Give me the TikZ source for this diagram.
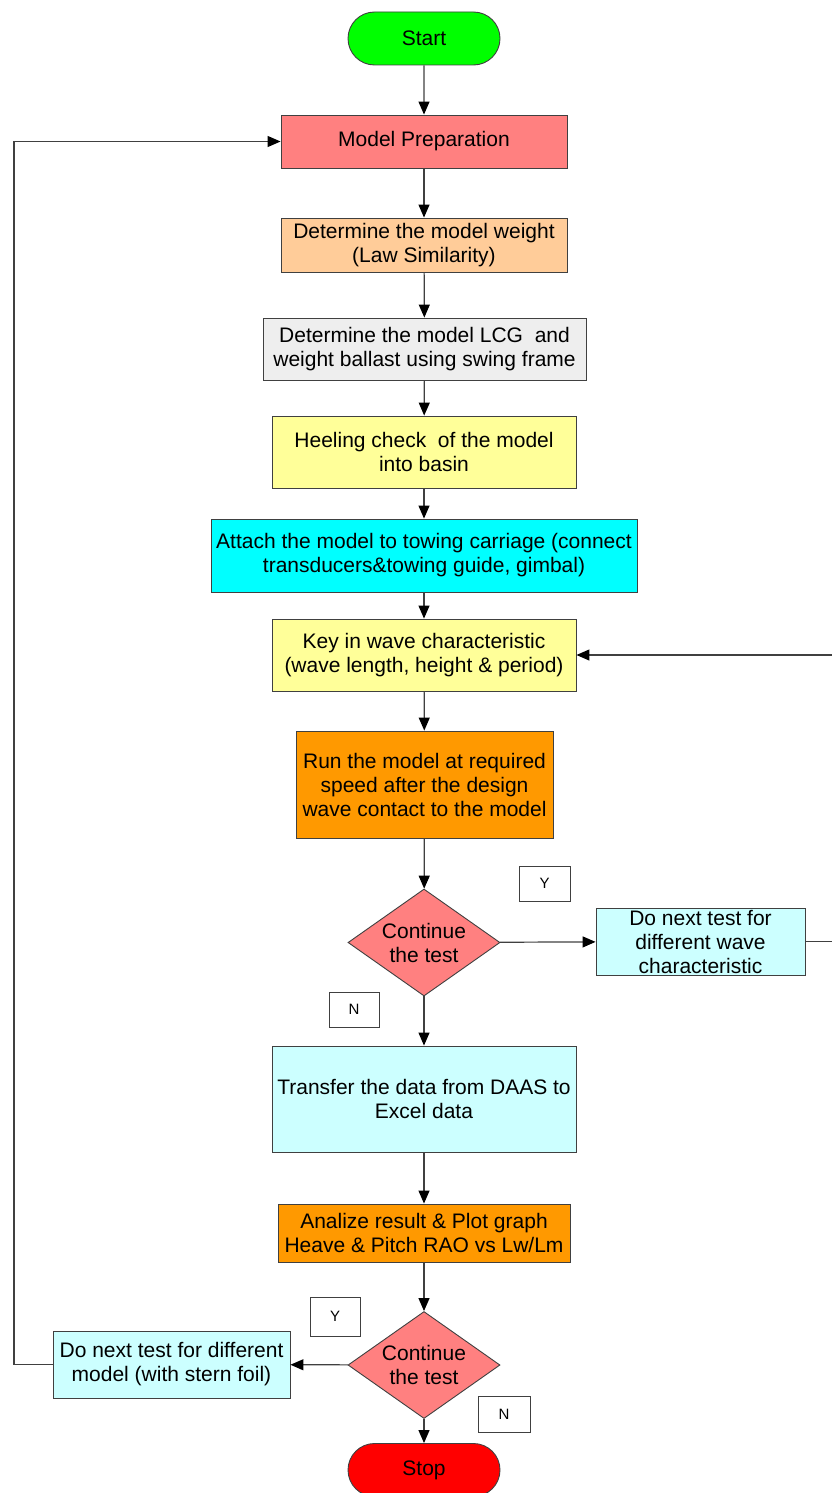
\documentclass[tikz,border=0pt]{standalone}
\usepackage{fontspec}
\setmainfont{Liberation Sans}
\usetikzlibrary{shapes.geometric,shapes.misc,arrows.meta}
\definecolor{cstart}{HTML}{00FF00}
\definecolor{cstop}{HTML}{FF0000}
\definecolor{cpink}{HTML}{FF8080}
\definecolor{cpeach}{HTML}{FFCC99}
\definecolor{cgray}{HTML}{EEEEEE}
\definecolor{cyel}{HTML}{FFFF99}
\definecolor{ccyan}{HTML}{00FFFF}
\definecolor{clcyan}{HTML}{CCFFFF}
\definecolor{corange}{HTML}{FF9900}
\definecolor{cline}{HTML}{404040}
\tikzset{
  base/.style={draw=cline, line width=0.9pt, align=center, inner sep=0pt,
    font=\fontsize{21}{24}\selectfont},
  proc/.style={base, rectangle},
  term/.style={base, rounded rectangle, minimum width=152pt, minimum height=53pt},
  decide/.style={base, diamond, aspect=1.42, minimum width=152pt, minimum height=107pt},
  yn/.style={draw=cline, fill=white, line width=0.8pt, inner sep=0pt,
    font=\fontsize{15}{18}\selectfont},
  conn/.style={draw=cline, line width=1.2pt, -{Triangle[length=13pt,width=11pt,color=black]}},
}
\begin{document}
\begin{tikzpicture}[x=1pt,y=-1pt]
\useasboundingbox (0,0) rectangle (832,1493);
\node[term, fill=cstart] (start) at (424,38.5) {Start};
\node[proc, fill=cpink, minimum width=286pt, minimum height=53pt] (prep) at (424,141.5) {Model Preparation};
\node[proc, fill=cpeach, minimum width=286pt, minimum height=54pt] (weight) at (424,245) {Determine the model weight\\(Law Similarity)};
\node[proc, fill=cgray, minimum width=323pt, minimum height=62pt] (lcg) at (424.5,349) {Determine the model LCG\ \ and\\weight ballast using swing frame};
\node[proc, fill=cyel, minimum width=304pt, minimum height=72pt] (heel) at (424,452) {Heeling check\ \ of the model\\into basin};
\node[proc, fill=ccyan, minimum width=426pt, minimum height=73pt] (attach) at (424,555.5) {Attach the model to towing carriage (connect\\transducers\&towing guide, gimbal)};
\node[proc, fill=cyel, minimum width=304pt, minimum height=72pt] (key) at (424,655) {Key in wave characteristic\\(wave length, height \& period)};
\node[proc, fill=corange, minimum width=257pt, minimum height=107pt] (run) at (424.5,784.5) {Run the model at required\\speed after the design\\wave contact to the model};
\node[decide, fill=cpink] (d1) at (424,942.5) {Continue\\the test};
\node[proc, fill=clcyan, minimum width=209pt, minimum height=67pt] (wave) at (700.5,941.5) {Do next test for\\different wave\\characteristic};
\node[yn, minimum width=51pt, minimum height=35pt] (y1) at (544.5,883.5) {Y};
\node[yn, minimum width=50pt, minimum height=35pt] (n1) at (354,1009.5) {N};
\node[proc, fill=clcyan, minimum width=304pt, minimum height=106pt] (transfer) at (424,1099) {Transfer the data from DAAS to\\Excel data};
\node[proc, fill=corange, minimum width=292pt, minimum height=58pt] (analize) at (424,1233) {Analize result \& Plot graph\\Heave \& Pitch RAO vs Lw/Lm};
\node[decide, fill=cpink] (d2) at (424,1365) {Continue\\the test};
\node[yn, minimum width=50pt, minimum height=39pt] (y2) at (335,1316.5) {Y};
\node[yn, minimum width=52pt, minimum height=36pt] (n2) at (504,1414) {N};
\node[proc, fill=clcyan, minimum width=237pt, minimum height=67pt] (model) at (171.5,1364.5) {Do next test for different\\model (with stern foil)};
\node[term, fill=cstop] (stop) at (424,1470) {Stop};
\coordinate (wr) at (835,941.5);
\coordinate (wt) at (835,655);
\coordinate (ml) at (14,1364.5);
\coordinate (mt) at (14,141.5);
\draw[conn] (start) -- (prep);
\draw[conn] (prep) -- (weight);
\draw[conn] (weight) -- (lcg);
\draw[conn] (lcg) -- (heel);
\draw[conn] (heel) -- (attach);
\draw[conn] (attach) -- (key);
\draw[conn] (key) -- (run);
\draw[conn] (run) -- (d1);
\draw[conn] (d1) -- (wave);
\draw[conn] (wave.east) -- (wr) -- (wt) -- (key.east);
\draw[conn] (d1) -- (transfer);
\draw[conn] (transfer) -- (analize);
\draw[conn] (analize) -- (d2);
\draw[conn] (d2) -- (model);
\draw[conn] (model.west) -- (ml) -- (mt) -- (prep.west);
\draw[conn] (d2) -- (stop);
\end{tikzpicture}
\end{document}
